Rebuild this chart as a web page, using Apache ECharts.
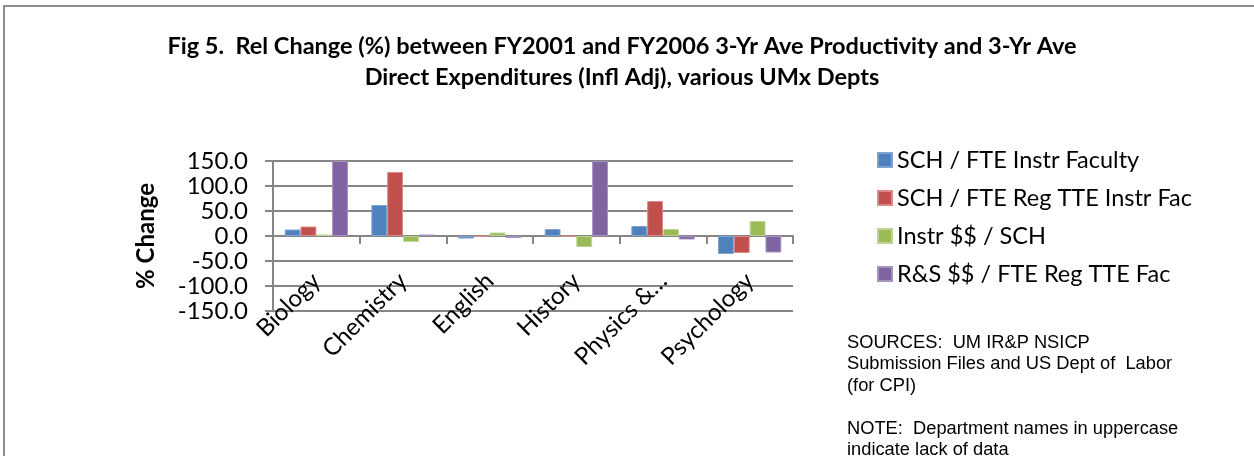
<!DOCTYPE html>
<html>
<head>
<meta charset="utf-8">
<title>Fig 5</title>
<script src="https://cdn.jsdelivr.net/npm/echarts@6/dist/echarts.min.js"></script>
<style>
    body {margin: 0; background: #fff; overflow: hidden;}
    #main01 {width: 1254px; height: 456px;}
</style>
</head>
<body>
<div id="main01"></div>
<script>
var categories = ['Biology', 'Chemistry', 'English', 'History', 'Physics &…', 'Psychology'];
var seriesNames = ['SCH / FTE Instr Faculty', 'SCH / FTE Reg TTE Instr Fac', 'Instr $$ / SCH', 'R&S $$ / FTE Reg TTE Fac'];
var schPerFteInstr = [13, 62, -5, 14, 20, -36];
var schPerFteRegTte = [19, 128, -1, -1, 70, -34];
var instrPerSch = [3, -12, 7, -22, 14, 30];
var rsPerFteRegTte = [150, 3, -4, 150, -7, -33];
var yTicks = [-150, -100, -50, 0, 50, 100, 150];

var colors = ['#4f81bd', '#c0504d', '#9bbb59', '#8064a2'];
var edges = ['#7ea4d4', '#d98a88', '#bdd494', '#a592c0'];
var values = [schPerFteInstr, schPerFteRegTte, instrPerSch, rsPerFteRegTte];

var myChart = echarts.init(document.getElementById('main01'));

var series = [];
for (var i = 0; i < values.length; i++) {
    series.push({
        name: seriesNames[i],
        type: 'bar',
        barGap: '0%',
        barCategoryGap: '27%',
        itemStyle: {color: colors[i], borderColor: edges[i], borderWidth: 1},
        data: values[i]
    });
}

var option = {
    backgroundColor: '#ffffff',
    animation: false,
    color: colors,
    textStyle: {fontFamily: 'Lato', color: '#000'},
    title: [
        {
            text: 'Fig 5.  Rel Change (%) between FY2001 and FY2006 3-Yr Ave Productivity and 3-Yr Ave\nDirect Expenditures (Infl Adj), various UMx Depts',
            left: 622,
            top: 31,
            textAlign: 'center',
            padding: 0,
            textStyle: {fontFamily: 'Lato', fontWeight: 'bold', fontSize: 23.5, lineHeight: 31, color: '#000'}
        },
        {
            text: 'SOURCES:  UM IR&P NSICP\nSubmission Files and US Dept of  Labor\n(for CPI)\n\nNOTE:  Department names in uppercase\nindicate lack of data',
            left: 847,
            top: 332,
            padding: 0,
            textStyle: {fontFamily: 'Liberation Sans', fontWeight: 'normal', fontSize: 18.3, lineHeight: 21.5, color: '#000'}
        }
    ],
    legend: {
        orient: 'vertical',
        left: 877,
        top: 148,
        padding: 0,
        itemWidth: 14,
        itemHeight: 14,
        itemGap: 14,
        icon: 'rect',
        data: seriesNames,
        textStyle: {fontFamily: 'Lato', fontSize: 23.5, lineHeight: 24, color: '#000'}
    },
    grid: {left: 273, top: 161, width: 520, height: 150, containLabel: false, outerBoundsMode: 'none'},
    xAxis: {
        type: 'category',
        data: categories,
        name: 'Department/School/College',
        nameLocation: 'middle',
        nameGap: 195,
        nameTextStyle: {fontFamily: 'Lato', fontWeight: 'bold', fontSize: 24, color: '#000'},
        axisLine: {onZero: true, lineStyle: {color: '#868686', width: 2}},
        axisTick: {show: true, length: 8, lineStyle: {color: '#868686', width: 2}},
        axisLabel: {rotate: 45, margin: -34, fontSize: 24, color: '#000', fontFamily: 'Lato', interval: 0}
    },
    yAxis: {
        type: 'value',
        min: yTicks[0],
        max: yTicks[yTicks.length - 1],
        interval: 50,
        name: '% Change',
        nameLocation: 'middle',
        nameGap: 115,
        nameTextStyle: {fontFamily: 'Lato', fontWeight: 'bold', fontSize: 24, color: '#000'},
        axisLine: {show: true, lineStyle: {color: '#868686', width: 2}},
        axisTick: {show: true, length: 8, lineStyle: {color: '#868686', width: 2}},
        splitLine: {show: true, lineStyle: {color: '#868686', width: 2}},
        axisLabel: {
            margin: 25,
            fontSize: 24,
            color: '#000',
            fontFamily: 'Lato',
            formatter: function (v) { return v.toFixed(1); }
        }
    },
    graphic: [
        {type: 'line', shape: {x1: 3, y1: 6, x2: 1254, y2: 6}, style: {stroke: '#8c8c8c', lineWidth: 2}},
        {type: 'line', shape: {x1: 4, y1: 6, x2: 4, y2: 456}, style: {stroke: '#8c8c8c', lineWidth: 2}}
    ],
    series: series
};

myChart.setOption(option);
</script>
</body>
</html>
